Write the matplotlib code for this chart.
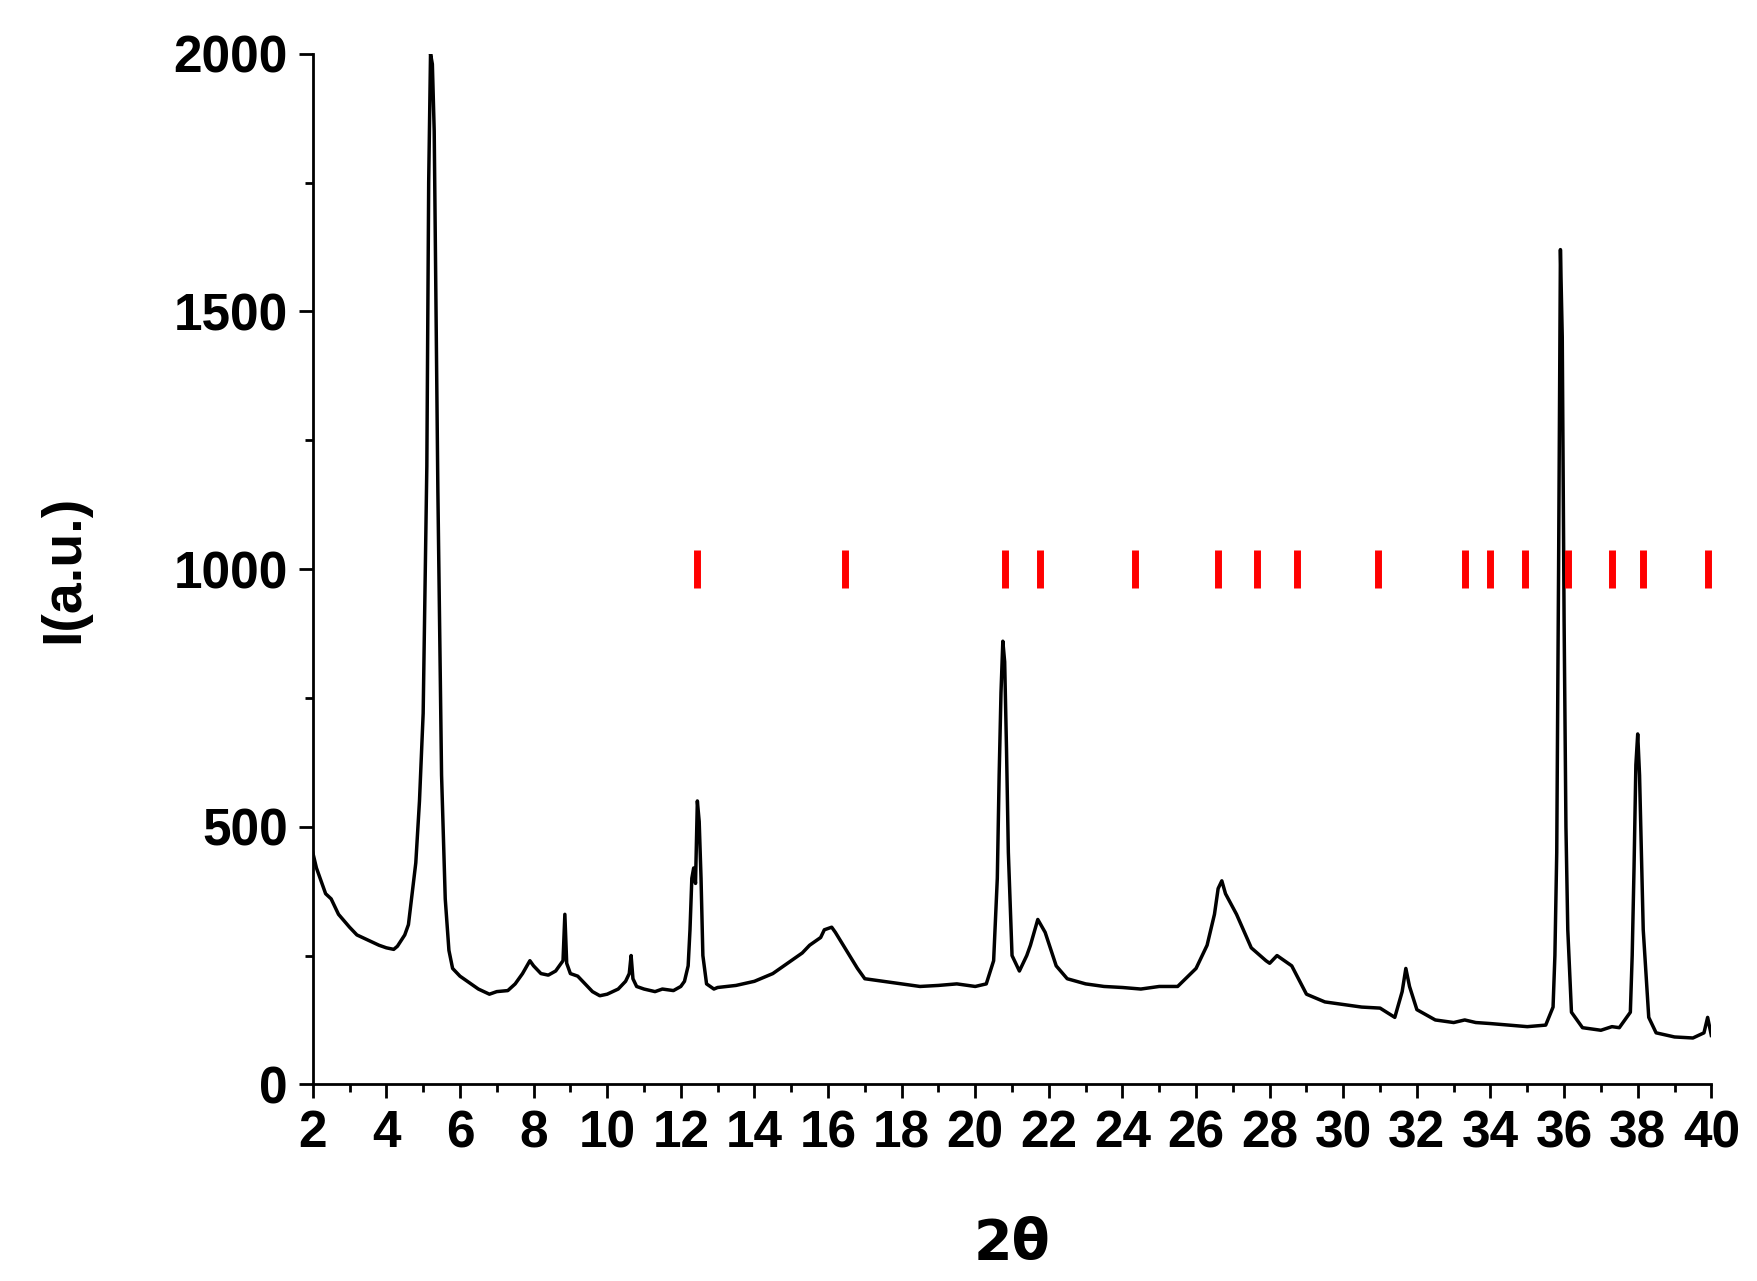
import matplotlib
matplotlib.use("Agg")
import matplotlib.pyplot as plt
from matplotlib.ticker import MultipleLocator

pattern = [
(2,450),(2.1,420),(2.2,400),(2.35,370),(2.5,360),(2.7,330),(3,305),(3.2,290),(3.5,280),(3.8,270),
(4,265),(4.2,262),(4.3,268),(4.5,290),(4.6,310),(4.7,370),(4.8,430),(4.9,550),(5.0,720),(5.1,1200),
(5.15,1750),(5.2,2000),(5.25,1980),(5.3,1850),(5.35,1500),(5.4,1150),(5.5,600),(5.6,360),(5.7,260),(5.8,225),
(6,210),(6.2,200),(6.5,185),(6.8,175),(7,180),(7.3,182),(7.5,195),(7.7,215),(7.9,240),(8.0,230),
(8.2,215),(8.4,212),(8.6,220),(8.8,240),(8.85,330),(8.9,235),(9.0,215),(9.2,210),(9.4,195),(9.6,180),
(9.8,172),(10,175),(10.3,185),(10.5,200),(10.6,215),(10.65,250),(10.7,205),(10.8,190),(11,185),(11.3,180),
(11.5,185),(11.8,182),(12,190),(12.1,200),(12.2,230),(12.25,300),(12.3,400),(12.35,420),(12.4,390),(12.45,550),
(12.5,510),(12.55,400),(12.6,250),(12.7,195),(12.9,185),(13,188),(13.5,192),(14,200),(14.5,215),(15,240),
(15.3,255),(15.5,270),(15.8,285),(15.9,300),(16.1,305),(16.2,295),(16.5,260),(16.8,225),(17,205),(17.5,200),
(18,195),(18.5,190),(19,192),(19.5,195),(20,190),(20.3,195),(20.5,240),(20.6,400),(20.65,600),(20.7,760),
(20.75,860),(20.8,820),(20.85,650),(20.9,450),(21,250),(21.2,220),(21.4,250),(21.5,270),(21.7,320),(21.9,295),
(22.2,230),(22.5,205),(23,195),(23.5,190),(24,188),(24.5,185),(25,190),(25.5,190),(26,225),(26.3,270),
(26.5,330),(26.6,380),(26.7,395),(26.8,370),(27.1,330),(27.5,265),(27.9,240),(28.0,235),(28.2,250),(28.6,230),
(29,175),(29.5,160),(30,155),(30.5,150),(31,148),(31.4,130),(31.6,180),(31.7,225),(31.8,190),(32,145),
(32.5,125),(33,120),(33.3,125),(33.6,120),(34,118),(34.5,115),(35,112),(35.5,115),(35.7,150),(35.75,250),
(35.8,450),(35.85,1000),(35.9,1620),(35.95,1450),(36,900),(36.05,500),(36.1,300),(36.2,140),(36.5,110),(37,105),
(37.3,112),(37.5,110),(37.8,140),(37.85,250),(37.9,420),(37.95,620),(38,680),(38.05,600),(38.1,450),(38.15,300),
(38.3,130),(38.5,100),(39,92),(39.5,90),(39.8,100),(39.9,130),(40,95),
]
two_theta = [p[0] for p in pattern]
intensity = [p[1] for p in pattern]

ticks_red = [12.45,16.45,20.8,21.75,24.35,26.6,27.65,28.75,30.95,33.3,34.0,34.95,36.1,37.3,38.15,39.9]
ticks_level = 1000

plt.rcParams['font.family'] = ['Liberation Sans', 'DejaVu Sans']
fig = plt.figure(figsize=(17.57, 12.81), dpi=100)
ax = fig.add_axes([0.178, 0.1535, 0.796, 0.8045])
ax.plot(two_theta, intensity, color='black', lw=2.5)
ax.plot(ticks_red, [ticks_level]*len(ticks_red), linestyle='none', marker='|',
        color='red', markersize=28, markeredgewidth=5)
ax.set_xlim(2, 40)
ax.set_ylim(0, 2000)
ax.xaxis.set_major_locator(MultipleLocator(2))
ax.xaxis.set_minor_locator(MultipleLocator(1))
ax.yaxis.set_major_locator(MultipleLocator(500))
ax.yaxis.set_minor_locator(MultipleLocator(250))
for s in ['top', 'right']:
    ax.spines[s].set_visible(False)
for s in ['left', 'bottom']:
    ax.spines[s].set_linewidth(2)
ax.tick_params(which='major', length=10, width=2, labelsize=37, pad=8)
ax.tick_params(which='minor', length=6, width=2)
for lab in ax.get_xticklabels() + ax.get_yticklabels():
    lab.set_fontweight('bold')
ax.set_xlabel('2θ', fontsize=40, fontweight='bold', labelpad=42, family=['DejaVu Sans'])
ax.set_ylabel('I(a.u.)', fontsize=40, fontweight='bold', labelpad=60)
fig.savefig('out.png')
